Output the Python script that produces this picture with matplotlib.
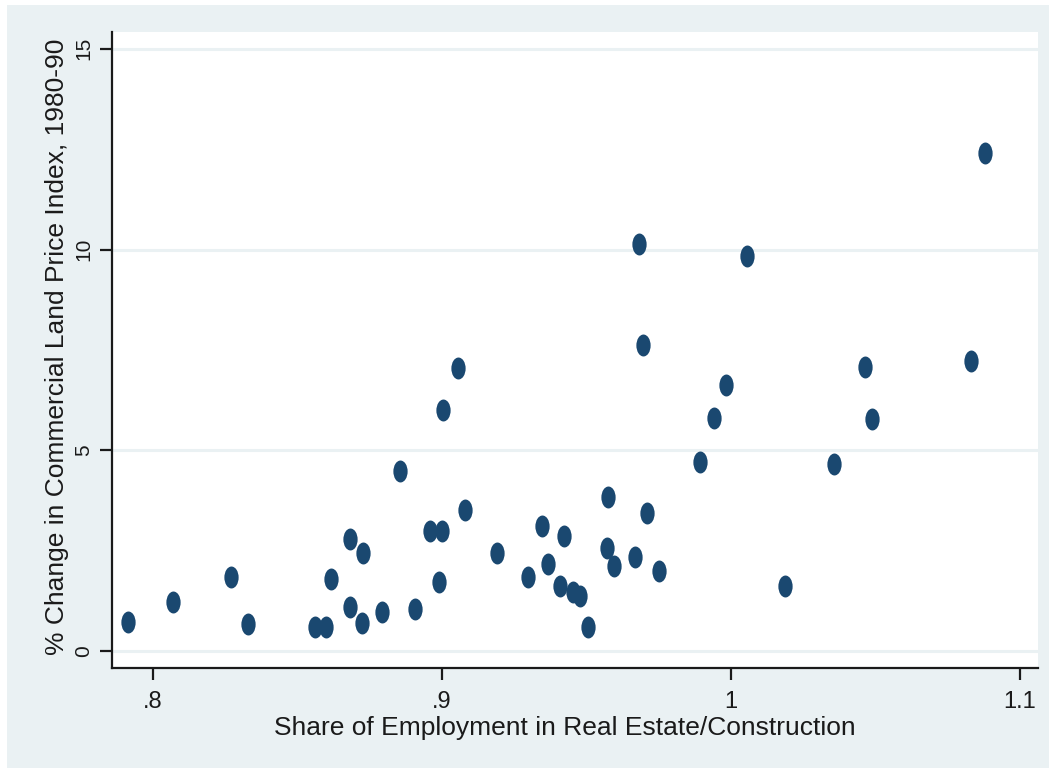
import numpy as np
import matplotlib.pyplot as plt
from matplotlib.path import Path
from matplotlib.transforms import Affine2D
from matplotlib.patches import Rectangle

# employment share vs. land price change, one point per area
share = [0.7913, 0.8069, 0.8270, 0.8329, 0.8560, 0.8599, 0.8616, 0.8682, 0.8682, 0.8727,
         0.8723, 0.8792, 0.8855, 0.8907, 0.8958, 0.9000, 0.8990, 0.9003, 0.9055, 0.9080,
         0.9190, 0.9298, 0.9346, 0.9367, 0.9408, 0.9422, 0.9453, 0.9478, 0.9505, 0.9571,
         0.9574, 0.9595, 0.9668, 0.9682, 0.9696, 0.9709, 0.9751, 0.9893, 0.9941, 0.9983,
         1.0055, 1.0187, 1.0356, 1.0464, 1.0488, 1.0830, 1.0879]
pct_change = [0.72, 1.22, 1.84, 0.67, 0.60, 0.60, 1.79, 2.79, 1.10, 2.44,
              0.70, 0.97, 4.49, 1.05, 2.99, 2.99, 1.72, 6.00, 7.05, 3.51,
              2.44, 1.84, 3.11, 2.17, 1.62, 2.87, 1.47, 1.37, 0.60, 2.57,
              3.84, 2.12, 2.34, 10.14, 7.63, 3.44, 1.99, 4.71, 5.81, 6.63,
              9.84, 1.62, 4.66, 7.08, 5.78, 7.23, 12.41]

xticks = [0.8, 0.9, 1.0, 1.1]
xticklabels = ['.8', '.9', '1', '1.1']
yticks = [0, 5, 10, 15]

bg = '#eaf1f3'
dot = '#1a4870'

plt.rcParams['font.family'] = ['Liberation Sans', 'DejaVu Sans']

fig = plt.figure(figsize=(10.49, 7.68), dpi=100, facecolor=bg)
# thin white margin along the top and left edges
fig.patches.append(Rectangle((0, 763 / 768), 1, 5 / 768, transform=fig.transFigure,
                             facecolor='white', edgecolor='none', zorder=-10))
fig.patches.append(Rectangle((0, 0), 7 / 1049, 1, transform=fig.transFigure,
                             facecolor='white', edgecolor='none', zorder=-10))

ax = fig.add_axes([112 / 1049, 100 / 768, 926 / 1049, 636 / 768])
ax.set_facecolor('white')

# tall oval marker
oval = Affine2D().scale(0.65, 1.0).transform_path(Path.unit_circle())
ax.scatter(share, pct_change, marker=oval, s=15.8 ** 2, color=dot, linewidths=0, zorder=3)

ax.set_xlim(0.7858, 1.1062)
ax.set_ylim(-0.42, 15.42)
ax.set_xticks(xticks)
ax.set_xticklabels(xticklabels)
ax.set_yticks(yticks)

for y in yticks:
    ax.axhline(y, color=bg, lw=2.2, zorder=1)

for side in ['top', 'right']:
    ax.spines[side].set_visible(False)
for side in ['left', 'bottom']:
    ax.spines[side].set_linewidth(1.6)
    ax.spines[side].set_color('#1a1a1a')

ax.tick_params(axis='x', length=8.5, width=1.6, pad=8, labelsize=17, colors='#1a1a1a')
ax.tick_params(axis='y', length=8.5, width=1.6, pad=5, labelsize=15, colors='#1a1a1a',
               labelrotation=90)
for lab in ax.get_yticklabels():
    lab.set_va('center')

ax.set_xlabel('Share of Employment in Real Estate/Construction', fontsize=19,
              color='#1a1a1a', va='center')
ax.set_ylabel('% Change in Commercial Land Price Index, 1980-90', fontsize=19,
              color='#1a1a1a', va='center')
ax.xaxis.set_label_coords(0.489, -0.0943)
ax.yaxis.set_label_coords(-0.0594, 0.505)

fig.savefig('out.png', dpi=100, facecolor=fig.get_facecolor())
